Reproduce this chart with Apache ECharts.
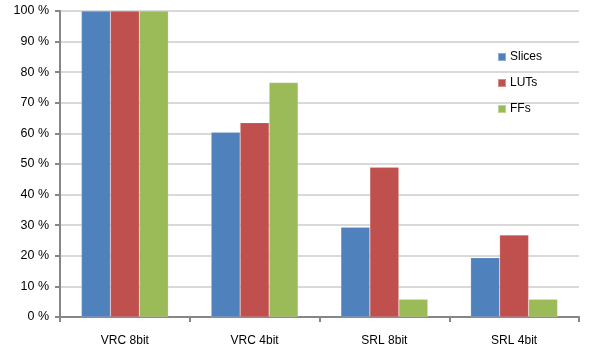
<!DOCTYPE html>
<html>
<head>
<meta charset="utf-8">
<script src="https://cdn.jsdelivr.net/npm/echarts@6/dist/echarts.min.js"></script>
<style>
  html, body { margin: 0; padding: 0; background: #fff; }
  #chart { width: 589px; height: 351px; }
</style>
</head>
<body>
<div id="chart"></div>
<script>
// Resource usage per design, as a percentage of the VRC 8bit design
const categories = ['VRC 8bit', 'VRC 4bit', 'SRL 8bit', 'SRL 4bit'];
const slices = [100, 60.4, 29.3, 19.4];
const luts = [100, 63.5, 48.9, 26.8];
const ffs = [100, 76.6, 5.8, 5.8];
const seriesNames = ['Slices', 'LUTs', 'FFs'];
const seriesColors = ['#4f81bd', '#c0504d', '#9bbb59'];

const font = 'Liberation Sans, Arial, sans-serif';

const chart = echarts.init(document.getElementById('chart'));
chart.setOption({
  animation: false,
  backgroundColor: '#ffffff',
  grid: { left: 60, right: 10, top: 11, bottom: 34, containLabel: false },
  legend: {
    orient: 'vertical',
    left: 497,
    top: 51,
    padding: 0,
    itemWidth: 8,
    itemHeight: 8,
    itemGap: 14,
    icon: 'rect',
    data: seriesNames,
    textStyle: { fontFamily: font, fontSize: 12, color: '#000', padding: [0, 0, 0, -1] }
  },
  xAxis: {
    type: 'category',
    data: categories,
    axisLine: { lineStyle: { color: '#868686', width: 2 } },
    axisTick: { show: true, length: 5, lineStyle: { color: '#868686', width: 2 } },
    axisLabel: { fontFamily: font, fontSize: 12, color: '#000', margin: 18 }
  },
  yAxis: {
    type: 'value',
    min: 0,
    max: 100,
    interval: 10,
    axisLine: { show: true, lineStyle: { color: '#868686', width: 2 } },
    axisTick: { show: true, length: 5, lineStyle: { color: '#868686', width: 2 } },
    axisLabel: { fontFamily: font, fontSize: 12.5, color: '#000', margin: 11, formatter: v => v + ' %' },
    splitLine: { lineStyle: { color: '#d9d9d9', width: 2 } }
  },
  series: [slices, luts, ffs].map((d, i) => ({
    name: seriesNames[i],
    type: 'bar',
    data: d,
    barGap: '0%',
    barCategoryGap: '33%',
    itemStyle: { color: seriesColors[i], borderColor: 'rgba(255,255,255,0.35)', borderWidth: 0.5 }
  }))
});
</script>
</body>
</html>
